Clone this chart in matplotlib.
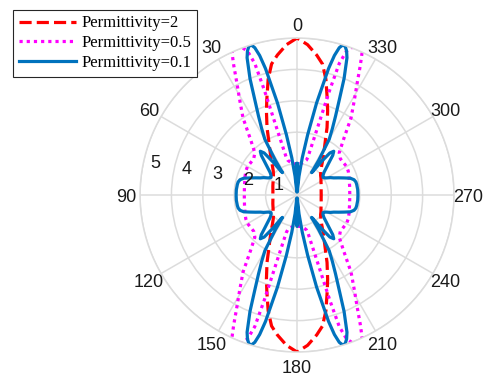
import numpy as np
import matplotlib
matplotlib.use("Agg")
import matplotlib.pyplot as plt
from matplotlib.transforms import offset_copy

# ---- data: one quadrant (deg from top, 0..90); pattern is symmetric about both axes
ang_red = [0, 4, 8, 11, 14, 17.5, 20, 24, 27, 30, 35, 40, 45, 50, 55, 60, 70, 80, 90]
r_red = [5.0, 4.8, 4.5, 4.25, 3.8, 3.2, 2.85, 2.35, 2.0, 1.75, 1.45, 1.22, 1.07, 0.98, 0.93, 0.88, 0.82, 0.78, 0.77]

ang_mag = [0, 5, 10, 13, 15, 16, 16.8, 17.3, 17.8, 19, 20.5, 22, 23.5, 24.5, 26, 28, 31, 35, 40, 45, 50, 55, 60, 65, 70, 80, 90]
r_mag = [1.0, 1.0, 1.05, 1.1, 1.15, 1.25, 2.0, 3.5, 4.4, 4.85, 5.02, 5.07, 5.08, 5.0, 4.6, 4.1, 3.55, 3.0, 2.3, 1.9, 1.8, 1.8, 1.82, 1.8, 1.76, 1.7, 1.68]

ang_blue = [0, 1, 2, 3, 4.5, 6, 8, 10, 12, 14, 15, 16, 17, 18, 19, 20, 22, 24, 26, 28, 30, 32, 33, 34, 36, 38, 40, 42, 44, 46, 48, 50, 52, 54, 56, 58, 60, 62.5, 65, 67.5, 70, 72.5, 75, 77.5, 80, 85, 90]
r_blue = [1.0, 0.95, 0.7, 0.15, 0.1, 0.6, 1.2, 1.95, 3.0, 4.15, 4.6, 4.88, 5.0, 4.97, 4.85, 4.65, 4.0, 3.3, 2.8, 2.4, 2.05, 1.3, 0.85, 0.9, 1.3, 1.7, 1.82, 1.7, 1.5, 1.35, 1.22, 1.12, 1.06, 1.02, 1.0, 1.03, 1.09, 1.2, 1.29, 1.43, 1.59, 1.78, 1.88, 1.92, 1.93, 1.94, 1.94]

labels = ["Permittivity=2", "Permittivity=0.5", "Permittivity=0.1"]
theta_ticks = list(range(0, 360, 30))
r_ticks = [1, 2, 3, 4, 5]


def full(ang, rad):
    a = np.asarray(ang, float)
    r = np.asarray(rad, float)
    th = np.concatenate([a, 180 - a[::-1], 180 + a, 360 - a[::-1]])
    rr = np.concatenate([r, r[::-1], r, r[::-1]])
    return np.deg2rad(th), rr


fig = plt.figure(figsize=(4.84, 3.76), dpi=100)
ax = fig.add_axes([0.2893, 0.0638, 0.6488, 0.8351], projection="polar")
ax.set_theta_zero_location("N")
ax.set_theta_direction(1)
ax.set_ylim(0, 5)
ax.set_yticks(r_ticks)
ax.set_yticklabels([])
ax.set_xticks(np.deg2rad(theta_ticks))
ax.set_xticklabels([])
ax.tick_params(length=0)
gc = "#dcdcdc"
ax.grid(True, color=gc, lw=1.1)
ax.spines["polar"].set_color(gc)
ax.spines["polar"].set_linewidth(1.1)
ax.set_axisbelow(True)

lw = 2.3
t, r = full(ang_red, r_red)
ax.plot(t, r, color="#ff0000", lw=lw, linestyle=(0, (3.8, 1.6)), label=labels[0])
t, r = full(ang_mag, r_mag)
ax.plot(t, r, color="#ff00ff", lw=lw, linestyle=(0, (1, 1.25)), label=labels[1])
t, r = full(ang_blue, r_blue)
ax.plot(t, r, color="#0072bd", lw=lw, label=labels[2])

fs = 13
for d in theta_ticks:
    ax.text(np.deg2rad(d), 5 * 171 / 157, str(d), ha="center", va="center_baseline",
            fontsize=fs, family="Liberation Sans", color="#1a1a1a", clip_on=False)

tr = offset_copy(ax.transData, fig=fig, x=13, y=6, units="dots")
for rv in r_ticks:
    ax.text(np.deg2rad(80), rv, str(rv), transform=tr, ha="center", va="center_baseline",
            fontsize=fs, family="Liberation Sans", color="#1a1a1a")

leg = ax.legend(loc="upper left", bbox_to_anchor=(13 / 484, 1 - 10 / 376),
                bbox_transform=fig.transFigure, borderaxespad=0,
                prop={"family": "Liberation Serif", "size": 12},
                frameon=True, fancybox=False, framealpha=1, edgecolor="#262626",
                handlelength=3.45, handletextpad=0.36, labelspacing=0.23, borderpad=0.33)
leg.get_frame().set_linewidth(0.8)

fig.savefig("out.png", dpi=100)
